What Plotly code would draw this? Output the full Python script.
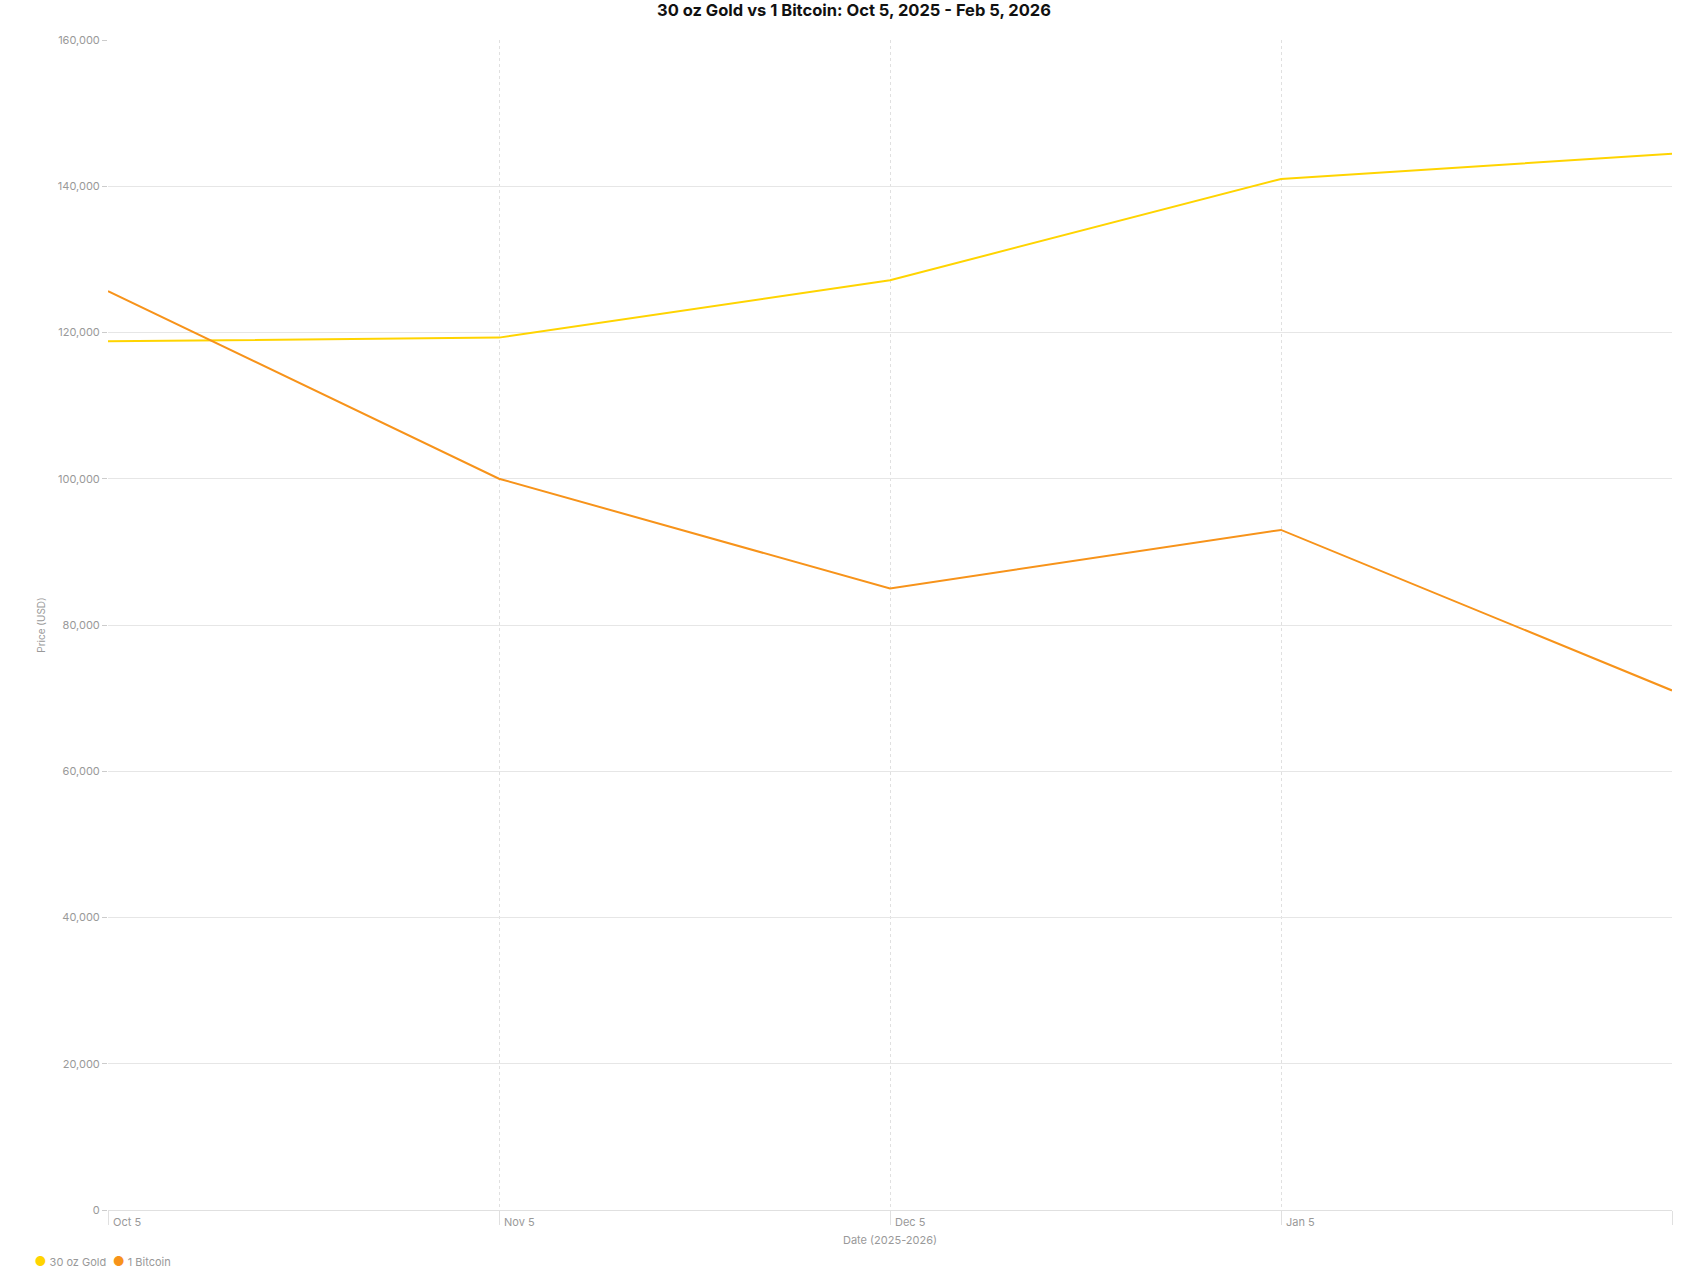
import plotly.graph_objects as go

dates = ["Oct 5", "Nov 5", "Dec 5", "Jan 5", "Feb 5"]
date_labels = ["Oct 5", "Nov 5", "Dec 5", "Jan 5", ""]
gold_30oz = [118800, 119300, 127150, 141000, 144450]
bitcoin_1 = [125650, 100000, 85000, 93000, 71050]
y_ticks = [0, 20000, 40000, 60000, 80000, 100000, 120000, 140000, 160000]

GOLD = "#FFD400"
BTC = "#F7931A"
FONT = "Inter, Roboto, sans-serif"

fig = go.Figure()

# the lines themselves
fig.add_trace(go.Scatter(x=dates, y=gold_30oz, mode="lines", name="30 oz Gold",
                         line=dict(color=GOLD, width=2), showlegend=False))
fig.add_trace(go.Scatter(x=dates, y=bitcoin_1, mode="lines", name="1 Bitcoin",
                         line=dict(color=BTC, width=2), showlegend=False))

# legend entries: coloured dot drawn in the label, symbol itself hidden
# each in its own legend so they can sit close together
for name, color, leg in [("30 oz Gold", GOLD, "legend"), ("1 Bitcoin", BTC, "legend2")]:
    label = f"<span style='color:{color};font-size:13px'>●</span> {name}"
    fig.add_trace(go.Scatter(x=[None], y=[None], mode="markers", name=label, legend=leg,
                             marker=dict(color="rgba(0,0,0,0)", size=1)))

legend_style = dict(orientation="h", xref="paper", yref="container", xanchor="left",
                    y=0.0152, yanchor="middle", itemwidth=30, bgcolor="rgba(0,0,0,0)",
                    font=dict(size=11, color="#999999"))

fig.update_layout(
    width=1708,
    height=1281,
    margin=dict(l=108, r=36, t=40, b=71, autoexpand=False),
    paper_bgcolor="white",
    plot_bgcolor="white",
    font=dict(family=FONT, size=11, color="#999999"),
    title=dict(text="<b>30 oz Gold vs 1 Bitcoin: Oct 5, 2025 - Feb 5, 2026</b>",
               font=dict(family=FONT, size=16.5, color="#111111"),
               x=0.5, xanchor="center", y=1 - 10 / 1281, yanchor="middle", yref="container"),
    legend=dict(x=-0.0725, **legend_style),
    legend2=dict(x=-0.0225, **legend_style),
    showlegend=True,
)

fig.update_xaxes(
    type="category",
    range=[0, len(dates) - 1],
    tickvals=dates,
    ticktext=date_labels,
    showgrid=True,
    gridcolor="#e0e0e0",
    griddash="3px,3px",
    gridwidth=1,
    ticks="outside",
    ticklen=14,
    tickcolor="#e0e0e0",
    ticklabelposition="outside right",
    ticklabelstandoff=2,
    ticklabelshift=4,
    showline=True,
    linecolor="#e0e0e0",
    linewidth=1,
    zeroline=False,
    automargin=False,
    tickfont=dict(size=11, color="#999999"),
    title=dict(text="Date (2025-2026)", standoff=18, font=dict(size=11, color="#999999")),
)

fig.update_yaxes(
    range=[0, 160000],
    tickvals=y_ticks,
    tickformat=",",
    showgrid=True,
    gridcolor="#e6e6e6",
    gridwidth=1,
    ticks="outside",
    ticklen=5,
    tickcolor="#cccccc",
    zeroline=False,
    showline=False,
    automargin=False,
    tickfont=dict(size=11, color="#999999"),
    title=dict(text="Price (USD)", standoff=10, font=dict(size=10, color="#999999")),
)

# page has no body margin in the reference
fig.write_html("out.html", config={"displayModeBar": False},
               post_script="document.body.style.margin='0';")
